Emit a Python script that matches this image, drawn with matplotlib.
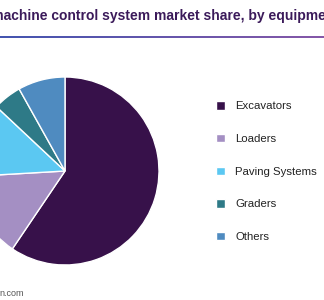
import matplotlib
matplotlib.use('Agg')
import matplotlib.pyplot as plt
import numpy as np
from matplotlib.colors import LinearSegmentedColormap

# Dades
categories = ['Excavators', 'Loaders', 'Paving Systems', 'Graders', 'Others']
shares = [59.4, 14.6, 12.9, 4.9, 8.1]
colors = ['#37114a', '#a48fc3', '#5bc8f2', '#2e7a87', '#4f8bc0']
title = 'U.S. machine control system market share, by equipment, 2016 (%)'
source = 'n.com'

W, H = 324, 300
fig = plt.figure(figsize=(W / 100, H / 100), dpi=100)
plt.rcParams['font.family'] = ['Liberation Sans', 'DejaVu Sans']

# Títol (retallat a l'esquerra com a l'original)
fig.text(-40 / W, 1 - 20 / H, title, fontsize=10, fontweight='bold',
         color='#3b1a5a', ha='left', va='baseline')

# Línia amb degradat sota el títol
axl = fig.add_axes([0, 1 - 38 / H, 1, 2 / H])
grad = LinearSegmentedColormap.from_list('g', ['#4455b0', '#8658a8'])
axl.imshow(np.linspace(0, 1, 256)[None, :], aspect='auto', cmap=grad)
axl.axis('off')

# Pastís
r = 94
cx, cy = 65, 171
ax = fig.add_axes([(cx - r) / W, (H - cy - r) / H, 2 * r / W, 2 * r / H])
wedges, _ = ax.pie(shares, colors=colors, startangle=90, counterclock=False,
                   wedgeprops=dict(edgecolor='white', linewidth=1))
ax.set_xlim(-1, 1)
ax.set_ylim(-1, 1)
ax.set_aspect('equal')

# Llegenda
fig.legend(wedges, categories, loc='upper left',
           bbox_to_anchor=(206 / W, 1 - 91 / H), frameon=False,
           fontsize=8.2, labelspacing=1.98, handlelength=0.75,
           handleheight=0.75, handletextpad=0.9, labelcolor='#222222')

# Font
fig.text(-1 / W, 1 - 296 / H, source, fontsize=6.5,
         color='#555555', ha='left', va='baseline')

plt.savefig('out.png', dpi=100)
